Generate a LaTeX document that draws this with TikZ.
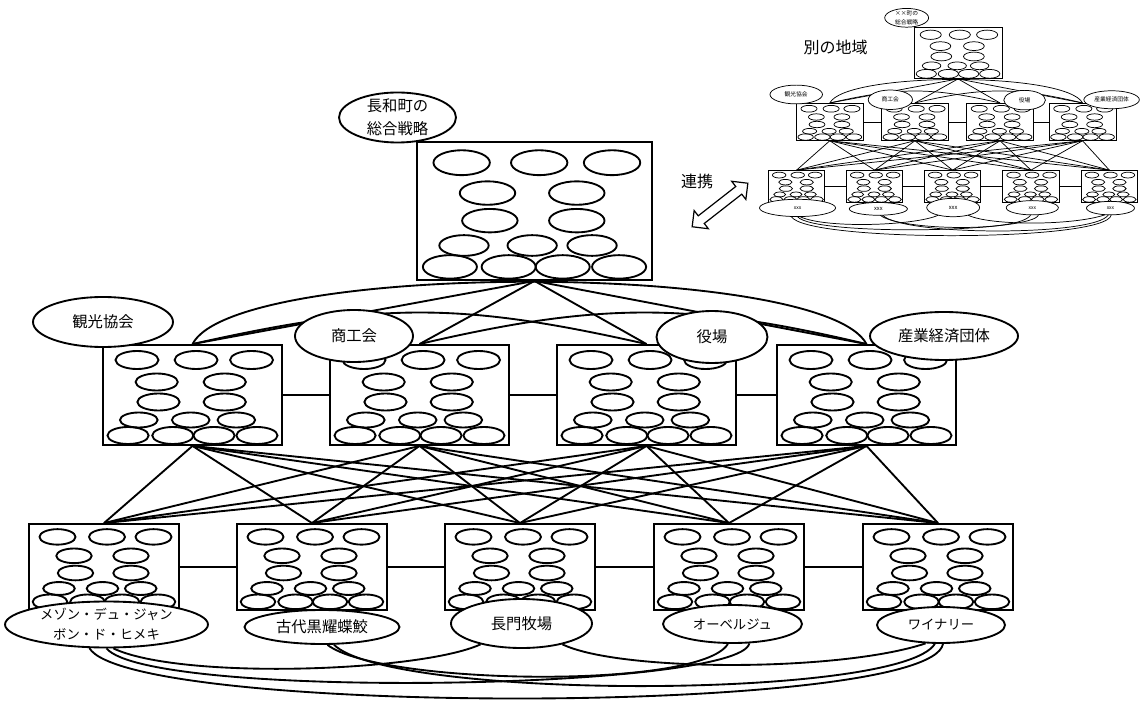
\documentclass[tikz,border=0pt]{standalone}
\usepackage{fontspec}
\setmainfont{Noto Sans CJK JP}
\usetikzlibrary{shapes.geometric,shapes.arrows}

\newcommand\lblfont{\fontsize{11.5}{17.25}\selectfont}
\newcommand\kanafont{\fontsize{10}{15}\selectfont}
\newcommand\bigfont{\fontsize{12}{14}\selectfont}

\tikzset{
  netline/.style={line width=1.4pt},
  boxnode/.style={draw, netline, rectangle, inner sep=0pt, fill=white},
  boxt/.style={boxnode, minimum width=176.25pt, minimum height=103.5pt},
  boxm/.style={boxnode, minimum width=134.25pt, minimum height=75pt},
  boxb/.style={boxnode, minimum width=112.5pt, minimum height=64.5pt},
  lblk/.style={draw, netline, ellipse, fill=white, inner sep=0pt, align=center, font=\lblfont},
  lblkana/.style={lblk, font=\kanafont},
}

% inner pattern of small ellipses inside a box: left, top, width, height (px)
\newcommand\innerpat[4]{%
  \foreach \fa/\fb/\ra/\rb in {0.19/0.15/0.12/0.09, 0.52/0.15/0.12/0.09, 0.83/0.15/0.12/0.09,
      0.30/0.37/0.118/0.085, 0.68/0.37/0.118/0.085,
      0.31/0.57/0.118/0.085, 0.68/0.57/0.118/0.085,
      0.20/0.75/0.105/0.075, 0.49/0.75/0.105/0.075, 0.745/0.75/0.105/0.075,
      0.14/0.905/0.115/0.085, 0.39/0.905/0.115/0.085, 0.62/0.905/0.115/0.085, 0.86/0.905/0.115/0.085}{%
    \draw[netline] ({#1+\fa*#3},{#2+\fb*#4}) ellipse [x radius={\ra*#3*0.75pt}, y radius={\rb*#4*0.75pt}];}%
}

\def\labT{長和町の\\総合戦略}
\def\labMa{観光協会}
\def\labMb{商工会}
\def\labMc{役場}
\def\labMd{産業経済団体}
\def\labBa{メゾン・デュ・ジャン\\ボン・ド・ヒメキ}
\def\labBb{古代黒耀蝶鮫}
\def\labBc{長門牧場}
\def\labBd{オーベルジュ}
\def\labBe{ワイナリー}

\newcommand\drawnet{%
  % boxes
  \node[boxt] (T) at (534.5,211) {};
  \node[boxm] (M1) at (192.5,395) {};
  \node[boxm] (M2) at (419.5,395) {};
  \node[boxm] (M3) at (646.5,395) {};
  \node[boxm] (M4) at (866.5,395) {};
  \node[boxb] (B1) at (104,567) {};
  \node[boxb] (B2) at (312,567) {};
  \node[boxb] (B3) at (520,567) {};
  \node[boxb] (B4) at (729,567) {};
  \node[boxb] (B5) at (938,567) {};
  % inner ellipses
  \innerpat{417}{142}{235}{138}
  \innerpat{103}{345}{179}{100}
  \innerpat{330}{345}{179}{100}
  \innerpat{557}{345}{179}{100}
  \innerpat{777}{345}{179}{100}
  \innerpat{29}{524}{150}{86}
  \innerpat{237}{524}{150}{86}
  \innerpat{445}{524}{150}{86}
  \innerpat{654}{524}{150}{86}
  \innerpat{863}{524}{150}{86}
  % top to middle
  \foreach \i in {1,...,4}{\draw[netline] (T.south) -- (M\i.north);}
  % middle row connections
  \draw[netline] (M1.east) -- (M2.west);
  \draw[netline] (M2.east) -- (M3.west);
  \draw[netline] (M3.east) -- (M4.west);
  \draw[netline] (M1.north) .. controls (380,302) and (460,302) .. (M3.north);
  \draw[netline] (M2.north) .. controls (600,302) and (690,302) .. (M4.north);
  \draw[netline] (M1.north) .. controls (235,261) and (823,261) .. (M4.north);
  % middle to bottom
  \foreach \i in {1,...,4}{\foreach \j in {1,...,5}{\draw[netline] (M\i.south) -- (B\j.north);}}
  % bottom row connections
  \draw[netline] (B1.east) -- (B2.west);
  \draw[netline] (B2.east) -- (B3.west);
  \draw[netline] (B3.east) -- (B4.west);
  \draw[netline] (B4.east) -- (B5.west);
  % labels
  \node[lblk, minimum width=87.75pt, minimum height=37.5pt, inner ysep=-2pt] (LT) at (397.5,117.5) {\labT};
  \node[lblk, minimum width=105pt, minimum height=37.5pt] (LM1) at (103,322) {\labMa};
  \node[lblk, minimum width=88.5pt, minimum height=39pt] (LM2) at (354,336) {\labMb};
  \node[lblk, minimum width=83.25pt, minimum height=39pt] (LM3) at (712,337) {\labMc};
  \node[lblk, minimum width=111pt, minimum height=36pt] (LM4) at (944,336) {\labMd};
  \node[lblkana, minimum width=152.25pt, minimum height=34.5pt, inner ysep=-2pt] (LB1) at (106.5,624.5) {\labBa};
  \node[lblk, minimum width=116.25pt, minimum height=25.5pt] (LB2) at (322,627) {\labBb};
  \node[lblk, minimum width=105.75pt, minimum height=36.75pt] (LB3) at (521.5,623.5) {\labBc};
  \node[lblkana, minimum width=104.25pt, minimum height=28.5pt] (LB4) at (732.5,624) {\labBd};
  \node[lblkana, minimum width=96pt, minimum height=27pt] (LB5) at (941,625) {\labBe};
  % bottom curves
  \draw[netline] (LB1.286) .. controls (180,680) and (420,672) .. (LB3.207);
  \draw[netline] (LB3.333) .. controls (620,672) and (840,672) .. (LB5.230);
  \draw[netline] (LB2.287) .. controls (380,685) and (700,690) .. (LB4.257);
  \draw[netline] (LB1.270) .. controls (150,700) and (740,690) .. (LB4.311);
  \draw[netline] (LB2.304) .. controls (390,700) and (900,700) .. (LB5.252);
  \draw[netline] (LB1.234) .. controls (130,716) and (930,716) .. (LB5.276);
}

\begin{document}
\begin{tikzpicture}[x=0.75pt,y=-0.75pt]
\useasboundingbox (0,0) rectangle (1143,702);
\drawnet
\begin{scope}[shift={(757.6,-26.25)}, scale=0.375, transform shape, name prefix=m-, netline/.style={line width=0.55pt}]
  \def\labT{××町の\\総合戦略}
  \def\labBa{xxx}
  \def\labBb{xxx}
  \def\labBc{xxx}
  \def\labBd{xxx}
  \def\labBe{xxx}
  \drawnet
\end{scope}
\node[font=\bigfont] (other) at (835.5,47.5) {別の地域};
\node[font=\bigfont] (renkei) at (697,181) {連携};
\node[draw, line width=0.9pt, double arrow, inner sep=0pt, inner ysep=3.2pt, minimum height=53pt, double arrow head extend=5pt, rotate=38] (arr) at (720,205) {};
\end{tikzpicture}
\end{document}
